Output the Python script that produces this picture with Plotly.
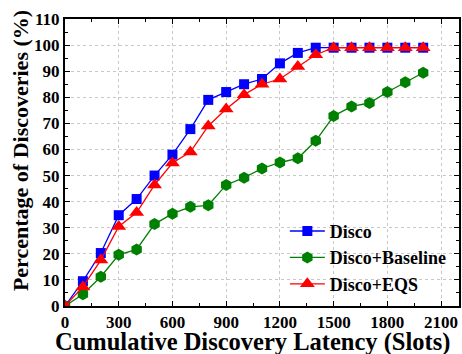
import plotly.graph_objects as go

# Cumulative discovery latency (slots)
slots = [0, 100, 200, 300, 400, 500, 600, 700, 800, 900, 1000,
         1100, 1200, 1300, 1400, 1500, 1600, 1700, 1800, 1900, 2000]

# Percentage of discoveries (%)
disco = [0, 9.5, 20.3, 34.8, 41.0, 50.0, 58.0, 67.8, 79.0, 82.0, 85.0,
         87.0, 93.0, 97.0, 99.0, 99.0, 99.0, 99.0, 99.0, 99.0, 99.0]
disco_baseline = [0, 4.5, 11.2, 19.6, 21.7, 31.4, 35.4, 38.0, 38.6, 46.4, 49.2,
                  52.7, 55.0, 56.6, 63.3, 72.8, 76.5, 77.8, 82.0, 85.8, 89.4]
disco_eqs = [0, 7.3, 17.6, 30.5, 35.8, 46.4, 54.8, 59.0, 69.0, 75.5, 81.0,
             85.0, 87.0, 91.8, 96.3, 99.0, 99.0, 99.0, 99.0, 99.0, 99.0]

x_ticks = [0, 300, 600, 900, 1200, 1500, 1800, 2100]
y_ticks = [0, 10, 20, 30, 40, 50, 60, 70, 80, 90, 100, 110]

x_title = "Cumulative Discovery Latency (Slots)"
y_title = "Percentage of Discoveries (%)"

FONT = "Liberation Serif"

fig = go.Figure()
fig.add_trace(go.Scatter(
    x=slots, y=disco, name="Disco", mode="lines+markers",
    line=dict(color="#0000ff", width=1.3),
    marker=dict(symbol="square", size=10, color="#0000ff")))
fig.add_trace(go.Scatter(
    x=slots, y=disco_baseline, name="Disco+Baseline", mode="lines+markers",
    line=dict(color="#008000", width=1.3),
    marker=dict(symbol="hexagon", size=12, color="#008000")))
fig.add_trace(go.Scatter(
    x=slots, y=disco_eqs, name="Disco+EQS", mode="lines+markers",
    line=dict(color="#ff0000", width=1.3),
    marker=dict(symbol="triangle-up", size=13, color="#ff0000")))

axis_common = dict(
    showline=True, linecolor="black", linewidth=2, mirror="allticks",
    ticks="inside", ticklen=5, tickwidth=1.2, tickcolor="black",
    showgrid=True, gridcolor="#c8c8c8", griddash="dot", gridwidth=1,
    zeroline=False,
    tickfont=dict(family=FONT, size=17, color="black", weight="bold"),
)

fig.update_xaxes(
    range=[0, 2200], tickvals=x_ticks,
    minor=dict(ticks="inside", ticklen=3, tickwidth=1, tickcolor="black",
               dtick=150, tick0=0, showgrid=False),
    **axis_common)
fig.update_yaxes(
    range=[0, 110], tickvals=y_ticks,
    minor=dict(ticks="inside", ticklen=3, tickwidth=1, tickcolor="black",
               dtick=5, tick0=0, showgrid=False),
    **axis_common)

# Axis titles placed as annotations relative to the plotting area
fig.add_annotation(
    text=x_title, xref="paper", yref="paper", x=0.477, y=-0.124,
    xanchor="center", yanchor="middle", showarrow=False,
    font=dict(family=FONT, size=24.5, color="black", weight="bold"))
fig.add_annotation(
    text=y_title, xref="paper", yref="paper", x=-0.114, y=0.54,
    xanchor="center", yanchor="middle", textangle=-90, showarrow=False,
    font=dict(family=FONT, size=22, color="black", weight="bold"))

fig.update_layout(
    width=462, height=354,
    margin=dict(l=65, r=1, t=19, b=48),
    paper_bgcolor="white", plot_bgcolor="white",
    showlegend=True,
    legend=dict(
        x=0.558, y=0.168, xanchor="left", yanchor="middle",
        bgcolor="rgba(0,0,0,0)", borderwidth=0,
        font=dict(family=FONT, size=18, color="black", weight="bold"),
        itemwidth=35, tracegroupgap=0,
    ),
)

fig.write_html("out.html")
